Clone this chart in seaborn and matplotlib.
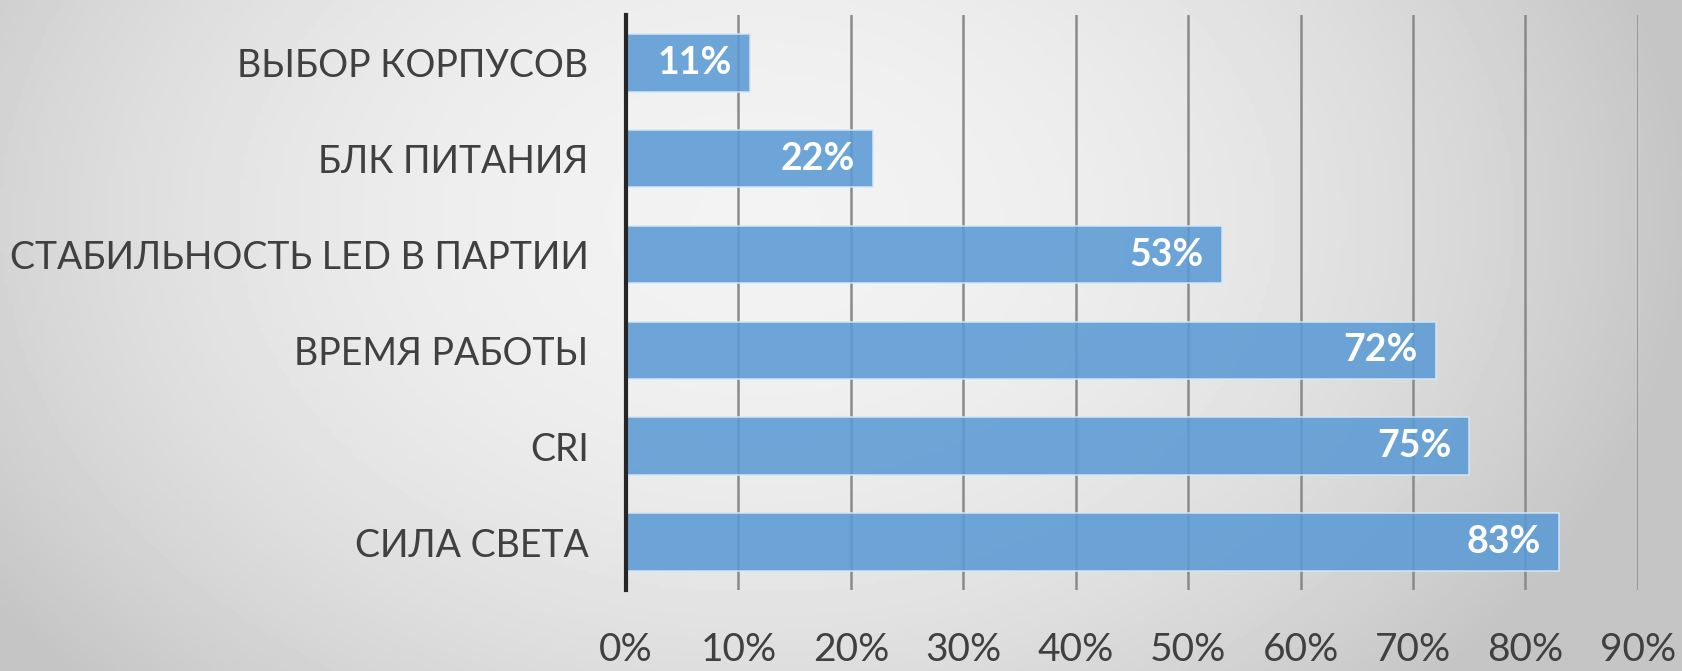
import numpy as np
import pandas as pd
import matplotlib
matplotlib.use("Agg")
import matplotlib.pyplot as plt
import seaborn as sns

# data, top to bottom as shown
categories = [
    "ВЫБОР КОРПУСОВ",
    "БЛК ПИТАНИЯ",
    "СТАБИЛЬНОСТЬ LED В ПАРТИИ",
    "ВРЕМЯ РАБОТЫ",
    "CRI",
    "СИЛА СВЕТА",
]
shares = [11, 22, 53, 72, 75, 83]
x_ticks = [0, 10, 20, 30, 40, 50, 60, 70, 80, 90]
x_tick_labels = [f"{t}%" for t in x_ticks]

df = pd.DataFrame({"category": categories, "share": shares})

sns.set_theme(style="white")
plt.rcParams["font.family"] = ["Lato", "Open Sans", "DejaVu Sans"]

fig = plt.figure(figsize=(16.82, 6.71), dpi=100)

# soft grey background, lighter towards the middle
bg = fig.add_axes([0, 0, 1, 1], zorder=-10)
gx, gy = np.meshgrid(np.linspace(-1, 1, 400), np.linspace(-1, 1, 200))
dist = ((gx + 0.1) / 1.05) ** 2 + ((gy + 0.35) / 1.9) ** 2
shade = np.clip(0.95 - 0.16 * dist, 0.77, 0.96)
bg.imshow(shade, cmap="gray", vmin=0, vmax=1, aspect="auto",
          extent=[0, 1, 0, 1], origin="upper")
bg.axis("off")

ax = fig.add_axes([0.3722, 0.1207, 0.6016, 0.857])
ax.set_facecolor("none")

sns.barplot(data=df, x="share", y="category", orient="h", ax=ax,
            color="#5b9bd5", width=0.6, alpha=0.88, saturation=1,
            edgecolor="#d6e8f7", linewidth=1.2, zorder=3)

ax.set_xlim(0, 90)
ax.set_ylim(5.5, -0.5)
ax.set_xticks(x_ticks)
ax.set_xticklabels(x_tick_labels)
ax.xaxis.grid(True, color="#8a8a8a", linewidth=1.8, zorder=1)
ax.set_axisbelow(True)
ax.tick_params(axis="both", length=0, colors="#404040")
ax.tick_params(axis="x", pad=30, labelsize=28)
ax.tick_params(axis="y", pad=27, labelsize=27)
ax.set_xlabel("")
ax.set_ylabel("")

for side in ["top", "right", "bottom"]:
    ax.spines[side].set_visible(False)
ax.spines["left"].set_color("#262626")
ax.spines["left"].set_linewidth(3)
ax.spines["left"].set_zorder(5)

for patch in ax.patches:
    w = patch.get_width()
    yc = patch.get_y() + patch.get_height() / 2
    ax.annotate(f"{w:.0f}%", (w, yc), xytext=(-18, 0),
                textcoords="offset pixels", ha="right", va="center",
                color="white", fontsize=27, fontweight="bold", zorder=6)

fig.savefig("out.png", dpi=100)
